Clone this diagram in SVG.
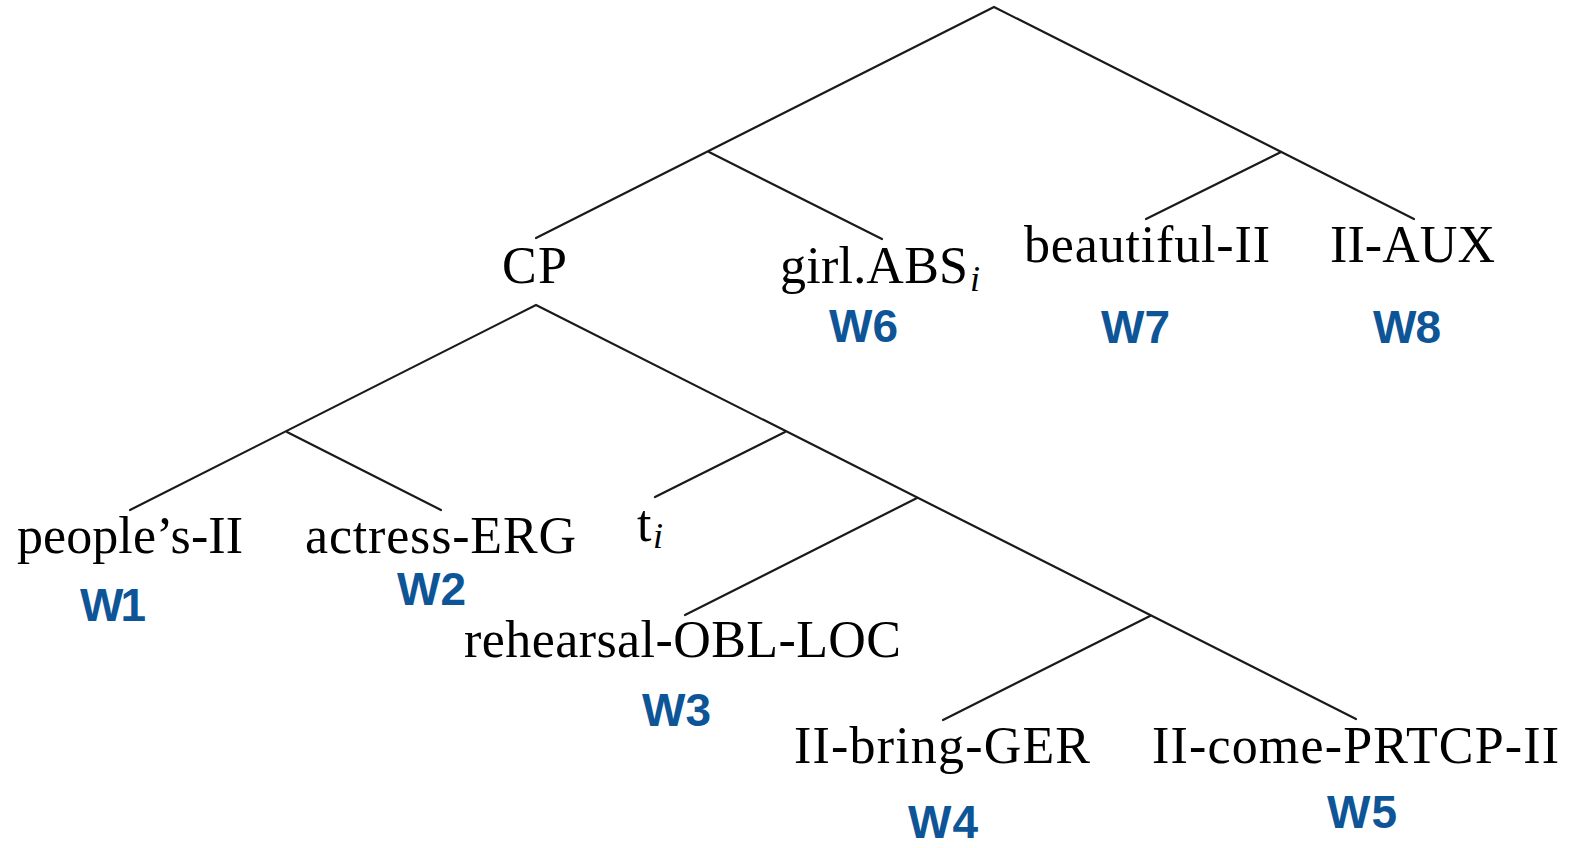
<svg xmlns="http://www.w3.org/2000/svg" width="1579" height="848" viewBox="0 0 1579 848">
<style>
.e{stroke:#1a1a1a;stroke-width:2.2;fill:none;stroke-linecap:round}
.t{font-family:"Liberation Serif","Times New Roman",serif;font-size:52px;fill:#000}
.s{font-style:italic;font-size:36px}
.w{font-family:"Liberation Sans",Arial,sans-serif;font-weight:bold;font-size:46px;fill:#0e5597}
</style>
<rect width="1579" height="848" fill="#fff"/>
<g id="connectors">
<polyline class="e" points="536,238 994,7 1414,219"/>
<line class="e" x1="709" y1="152" x2="882" y2="239"/>
<line class="e" x1="1281" y1="152" x2="1146" y2="219"/>
<polyline class="e" points="130,510 536,305 1356,719"/>
<line class="e" x1="287" y1="432" x2="441" y2="510"/>
<line class="e" x1="785" y1="432" x2="655" y2="497"/>
<line class="e" x1="917" y1="498" x2="685" y2="615"/>
<line class="e" x1="1150" y1="616" x2="943" y2="720"/>
</g>
<g id="n-cp"><text class="t" x="502" y="283" textLength="65">CP</text></g>
<g id="n-girl"><text class="t" x="780" y="283" textLength="188">girl.ABS</text><text class="t s" x="970" y="291">i</text><text class="w" x="829" y="342" textLength="69">W6</text></g>
<g id="n-beautiful"><text class="t" x="1024" y="262" textLength="246">beautiful-II</text><text class="w" x="1101" y="343" textLength="69">W7</text></g>
<g id="n-aux"><text class="t" x="1330" y="262" textLength="165">II-AUX</text><text class="w" x="1373" y="343" textLength="68">W8</text></g>
<g id="n-people"><text class="t" x="17" y="553" textLength="226">people’s-II</text><text class="w" x="80" y="621" textLength="66">W1</text></g>
<g id="n-actress"><text class="t" x="305" y="553" textLength="271">actress-ERG</text><text class="w" x="397" y="605" textLength="69">W2</text></g>
<g id="n-t"><text class="t" x="637" y="541">t</text><text class="t s" x="653" y="548">i</text></g>
<g id="n-rehearsal"><text class="t" x="464" y="657" textLength="437">rehearsal-OBL-LOC</text><text class="w" x="642" y="726" textLength="69">W3</text></g>
<g id="n-bring"><text class="t" x="794" y="763" textLength="296">II-bring-GER</text><text class="w" x="908" y="838" textLength="70">W4</text></g>
<g id="n-come"><text class="t" x="1152" y="763" textLength="407">II-come-PRTCP-II</text><text class="w" x="1327" y="828" textLength="70">W5</text></g>
</svg>
